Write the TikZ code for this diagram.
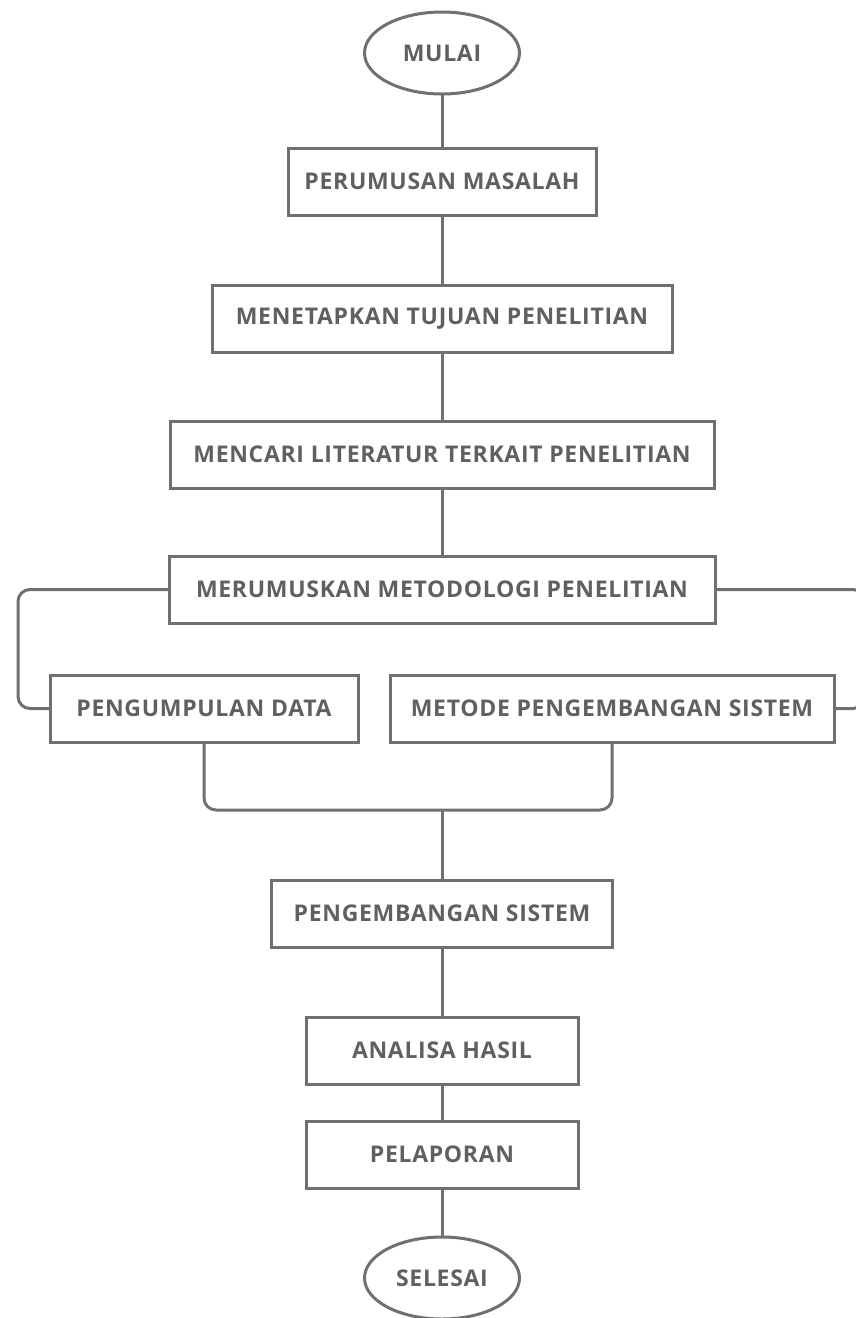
\documentclass[tikz,border=0pt]{standalone}
\usepackage{fontspec}
\setmainfont{Open Sans}[LetterSpace=3]
\usetikzlibrary{positioning, shapes.geometric}
\definecolor{flowgray}{RGB}{112,112,112}
\definecolor{textgray}{RGB}{96,96,96}

\begin{document}
\begin{tikzpicture}[
    x=1pt, y=1pt,
    node distance=70pt,
    box/.style={
        rectangle,
        draw=flowgray,
        line width=3pt,
        outer sep=0pt,
        minimum height=67pt,
        text=textgray,
        font=\fontsize{23}{27}\selectfont\bfseries
    },
    term/.style={
        ellipse,
        draw=flowgray,
        line width=3pt,
        outer sep=0pt,
        minimum width=155pt,
        minimum height=82pt,
        text=textgray,
        font=\fontsize{23}{27}\selectfont\bfseries
    },
    edge/.style={draw=flowgray, line width=3pt, rounded corners=12pt}
]
\useasboundingbox (0,0) rectangle (856,-1318);

\node[term] (mulai) at (442,-53) {MULAI};
\node[box, minimum width=308pt] (perumusan) [below=54pt of mulai] {PERUMUSAN MASALAH};
\node[box, minimum width=460pt] (tujuan) [below=70pt of perumusan] {MENETAPKAN TUJUAN PENELITIAN};
\node[box, minimum width=544pt] (literatur) [below=69pt of tujuan] {MENCARI LITERATUR TERKAIT PENELITIAN};
\node[box, minimum width=546pt] (metodologi) [below=68pt of literatur] {MERUMUSKAN METODOLOGI PENELITIAN};
\node[box, minimum width=308pt] (pengumpulan) [below=52pt of metodologi, xshift=-238pt] {PENGUMPULAN DATA};
\node[box, minimum width=444pt] (metode) [below=52pt of metodologi, xshift=170pt] {METODE PENGEMBANGAN SISTEM};
\node[box, minimum width=341pt] (pengembangan) [below=257pt of metodologi] {PENGEMBANGAN SISTEM};
\node[box, minimum width=272pt] (analisa) [below=70pt of pengembangan] {ANALISA HASIL};
\node[box, minimum width=272pt] (pelaporan) [below=37pt of analisa] {PELAPORAN};
\node[term] (selesai) [below=49pt of pelaporan] {SELESAI};

\coordinate (kiri) at (18,-650);
\coordinate (kanan) at (865,-650);
\coordinate (gabung) at (442,-810);

\draw[edge] (mulai) -- (perumusan);
\draw[edge] (perumusan) -- (tujuan);
\draw[edge] (tujuan) -- (literatur);
\draw[edge] (literatur) -- (metodologi);
\draw[edge] (metodologi.west) -| (kiri) |- (pengumpulan.west);
\draw[edge] (metodologi.east) -| (kanan) |- (metode.east);
\draw[edge] (pengumpulan.south) |- (gabung) -| (metode.south);
\draw[edge] (gabung) -- (pengembangan);
\draw[edge] (pengembangan) -- (analisa);
\draw[edge] (analisa) -- (pelaporan);
\draw[edge] (pelaporan) -- (selesai);

\end{tikzpicture}
\end{document}
